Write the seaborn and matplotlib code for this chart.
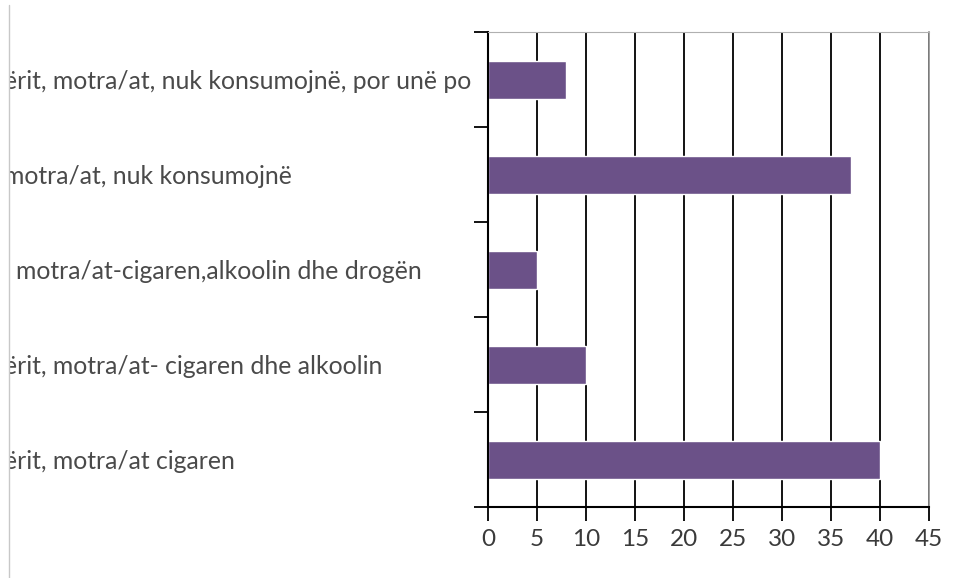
import matplotlib
matplotlib.use("Agg")
import matplotlib.pyplot as plt
from matplotlib.lines import Line2D
from matplotlib.transforms import Bbox
import numpy as np
import pandas as pd
import seaborn as sns

# data, top to bottom as shown
labels = [
    "ërit, motra/at, nuk konsumojnë, por unë po",
    "motra/at, nuk konsumojnë",
    ", motra/at-cigaren,alkoolin dhe drogën",
    "ërit, motra/at- cigaren dhe alkoolin",
    "ërit, motra/at cigaren",
]
values = [8, 37, 5, 10, 40]
x_ticks = [0, 5, 10, 15, 20, 25, 30, 35, 40, 45]

df = pd.DataFrame({"label": labels, "value": values})

sns.set_style("white")
plt.rcParams["font.family"] = ["Lato", "DejaVu Sans"]

fig = plt.figure(figsize=(9.54, 5.78), dpi=100)
ax_left = 488
ax = fig.add_axes([ax_left / 954, 1 - 507 / 578, (929 - ax_left) / 954, (507 - 32) / 578])

sns.barplot(data=df, x="value", y="label", orient="h", color="#6b5188",
            width=0.4, saturation=1, ax=ax)

ax.set_xlim(0, 45)
ax.set_ylim(len(labels) - 0.5, -0.5)
ax.set_xticks(x_ticks)
ax.set_xlabel("")
ax.set_ylabel("")

# black vertical gridlines behind the bars
ax.set_axisbelow(True)
ax.grid(axis="x", color="black", linewidth=1.3)
ax.grid(axis="y", visible=False)

# category labels start at the cut-off left border of the original
label_x = 4
ax.set_yticks(np.arange(-0.5, len(labels), 1.0), minor=True)
ax.tick_params(axis="y", which="major", length=0, pad=(ax_left - label_x) * 0.72,
               labelsize=17.8, labelcolor="#4a4a4a")
ax.tick_params(axis="y", which="minor", length=10, width=1.3, color="black",
               direction="out", left=True)
ax.tick_params(axis="x", length=10, width=1.3, color="black", direction="out",
               bottom=True, pad=6, labelsize=17.5, labelcolor="#3a3a3a")

for s in ["left", "bottom"]:
    ax.spines[s].set_color("black")
    ax.spines[s].set_linewidth(1.5)
ax.spines["top"].set_color("#b0b0b0")
ax.spines["top"].set_linewidth(0.8)
ax.spines["right"].set_color("#909090")
ax.spines["right"].set_linewidth(1.2)

clip = Bbox.from_extents(10, 0, 954, 578)
for t in ax.get_yticklabels():
    t.set_horizontalalignment("left")
    t.set_clip_on(True)
    t.set_clip_box(clip)

fig.add_artist(Line2D([9.5 / 954, 9.5 / 954], [0, 1 - 5 / 578],
                      transform=fig.transFigure, color="#c8c8c8", linewidth=1))

fig.savefig("out.png", dpi=100, facecolor="white")
